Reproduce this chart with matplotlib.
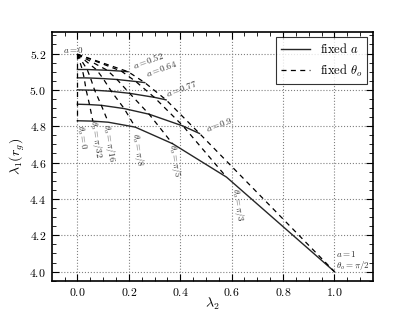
import numpy as np
import matplotlib
matplotlib.use('Agg')
import matplotlib.pyplot as plt

plt.rcParams['font.family'] = 'serif'
plt.rcParams['font.serif'] = ['cmr10']
plt.rcParams['mathtext.fontset'] = 'cm'
plt.rcParams['axes.formatter.use_mathtext'] = True

# spin values, a = 0 collapses to one point
a_vals = [0.52, 0.64, 0.77, 0.9, 1.0]
a_zero = (0.0, 5.196)
theta_labels = ['0', r'\pi/32', r'\pi/16', r'\pi/8', r'\pi/5', r'\pi/3', r'\pi/2']

# lambda_2 / lambda_1 per spin, one entry per observer inclination
lam2 = [
    [0.0, 0.019, 0.038, 0.075, 0.116, 0.171, 0.197],
    [0.0, 0.026, 0.051, 0.100, 0.154, 0.227, 0.262],
    [0.0, 0.034, 0.067, 0.132, 0.203, 0.299, 0.345],
    [0.0, 0.047, 0.093, 0.182, 0.279, 0.411, 0.475],
    [0.0, 0.060, 0.120, 0.225, 0.370, 0.580, 1.000],
]
lam1 = [
    [5.112, 5.112, 5.112, 5.110, 5.108, 5.103, 5.100],
    [5.066, 5.066, 5.065, 5.062, 5.057, 5.046, 5.040],
    [5.000, 4.999, 4.998, 4.992, 4.981, 4.959, 4.945],
    [4.921, 4.919, 4.915, 4.897, 4.866, 4.801, 4.760],
    [4.830, 4.828, 4.822, 4.795, 4.704, 4.520, 4.000],
]

lam2 = np.array(lam2)
lam1 = np.array(lam1)

fig = plt.figure(figsize=(4.15, 3.12), dpi=100)
ax = fig.add_axes([0.1246, 0.1003, 0.7742, 0.7981])

# fixed a
for i in range(len(a_vals)):
    ax.plot(lam2[i], lam1[i], color='0.15', lw=1.0, ls='-')
# fixed theta_o, starting from the a = 0 point
for j in range(len(theta_labels)):
    xs = np.concatenate([[a_zero[0]], lam2[:, j]])
    ys = np.concatenate([[a_zero[1]], lam1[:, j]])
    ax.plot(xs, ys, color='k', lw=0.9, ls=(0, (4, 3.5)))

# labels along the curves
a_text_pos = [(-0.014, 5.218), (0.277, 5.163), (0.328, 5.119), (0.405, 5.009), (0.553, 4.81)]
a_text = ['0', '0.52', '0.64', '0.77', '0.9']
for (x, y), s in zip(a_text_pos, a_text):
    rot = 0 if s == '0' else 20
    ax.text(x, y, r'$a=%s$' % s, fontsize=6.5, rotation=rot, ha='center', va='center',
            color='0.2', rotation_mode='anchor')

th_text_pos = [(0.017, 4.739), (0.074, 4.728), (0.125, 4.709), (0.235, 4.672), (0.378, 4.612), (0.625, 4.37)]
for (x, y), s in zip(th_text_pos, theta_labels[:-1]):
    ax.text(x, y, r'$\theta_o=%s$' % s, fontsize=6.5, rotation=-82, ha='center', va='center',
            color='0.2', rotation_mode='anchor')

ax.text(1.005, 4.0, '$a=1$\n' + r'$\theta_o=\pi/2$', fontsize=6.5, ha='left', va='bottom',
        color='0.2', linespacing=1.0)

ax.plot([], [], color='0.15', lw=1.0, ls='-', label='fixed $a$')
ax.plot([], [], color='k', lw=0.9, ls=(0, (4, 3.5)), label=r'fixed $\theta_o$')
leg = ax.legend(loc='upper right', fontsize=9, fancybox=False, handlelength=2.3,
                borderaxespad=0.45)
leg.get_frame().set_edgecolor('k')
leg.get_frame().set_linewidth(0.8)

ax.set_xlim(-0.1, 1.15)
ax.set_ylim(3.95, 5.32)
ax.set_xticks([0.0, 0.2, 0.4, 0.6, 0.8, 1.0])
ax.set_yticks([4.0, 4.2, 4.4, 4.6, 4.8, 5.0, 5.2])
ax.set_xticks(np.arange(-0.05, 1.15, 0.05), minor=True)
ax.set_yticks(np.arange(3.95, 5.32, 0.05), minor=True)
ax.tick_params(which='both', direction='in', top=True, right=True, labelsize=8.5)
ax.tick_params(axis='x', which='major', pad=3.5)
ax.tick_params(axis='y', which='major', pad=4)
ax.tick_params(which='major', length=5, width=0.8)
ax.tick_params(which='minor', length=3, width=0.6)
ax.grid(True, which='major', ls=':', color='0.5', lw=0.8)
for sp in ax.spines.values():
    sp.set_linewidth(1.2)

ax.set_xlabel(r'$\lambda_2$', fontsize=10)
ax.set_ylabel(r'$\lambda_1(r_g)$', fontsize=10)
ax.xaxis.set_label_coords(0.5, -0.058)
ax.yaxis.set_label_coords(-0.078, 0.5)

fig.savefig('out.png', dpi=100)
